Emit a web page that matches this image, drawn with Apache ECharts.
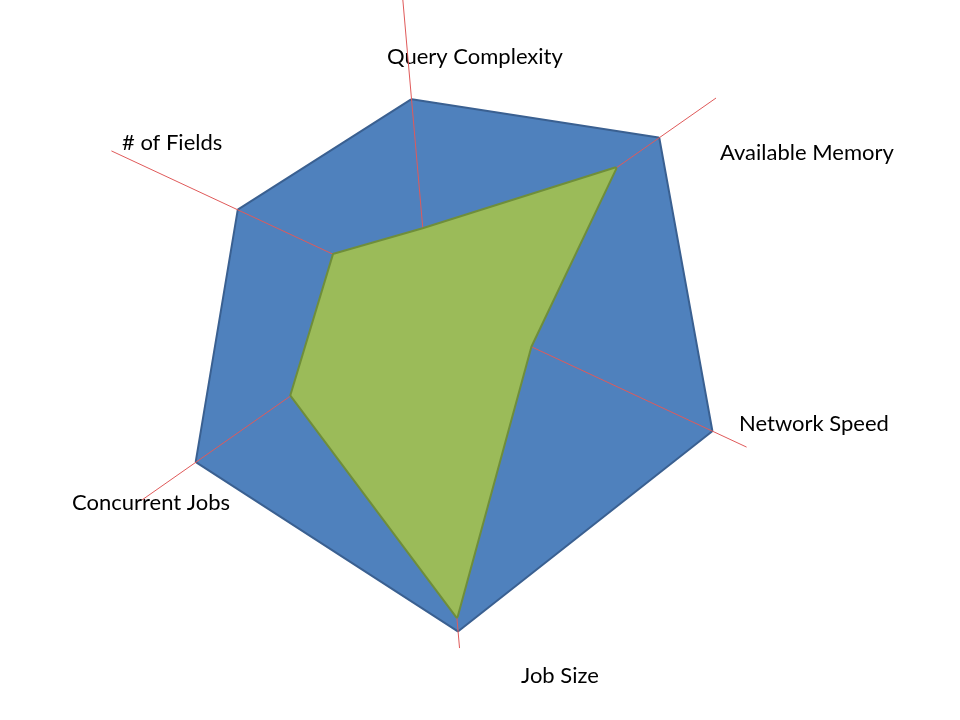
<!DOCTYPE html>
<html>
<head>
<meta charset="utf-8">
<script src="https://cdn.jsdelivr.net/npm/echarts/dist/echarts.min.js"></script>
<style>
  html, body { margin: 0; padding: 0; background: #fff; }
  #chart { width: 960px; height: 720px; }
</style>
</head>
<body>
<div id="chart"></div>
<script>
// indicators, listed counter-clockwise from the top axis
var indicators = ['Query Complexity', '# of Fields', 'Concurrent Jobs', 'Job Size', 'Network Speed', 'Available Memory'];
var indicatorMax = 100;

// outer (blue) and inner (green) profiles
var outerValues = [57, 60, 81, 95, 89, 80];
var innerValues = [20, 30, 48, 91, 32, 65];

// where each axis caption sits (left edge, middle line)
var captionPos = [[387, 57], [122, 143], [72, 503], [521, 676], [739, 424], [720, 153]];

var myChart = echarts.init(document.getElementById('chart'));

var option = {
    backgroundColor: '#ffffff',
    animation: false,
    radar: {
        center: [429, 299],
        radius: 350,
        startAngle: 95,
        shape: 'polygon',
        z: 2,
        indicator: indicators.map(function (n) {
            return { name: n, min: 0, max: indicatorMax };
        }),
        axisName: { show: false },
        axisLine: {
            lineStyle: { color: '#e05a5a', width: 1 }
        },
        axisTick: { show: false },
        axisLabel: { show: false },
        splitLine: { show: false },
        splitArea: { show: false }
    },
    graphic: indicators.map(function (n, i) {
        return {
            type: 'text',
            x: captionPos[i][0],
            y: captionPos[i][1],
            style: {
                text: n,
                fill: '#000000',
                font: '22px Lato',
                align: 'left',
                verticalAlign: 'middle',
                textAlign: 'left',
                textVerticalAlign: 'middle'
            }
        };
    }),
    series: [
        {
            type: 'radar',
            z: 1,
            symbol: 'none',
            lineStyle: { color: '#3a6091', width: 4 },
            areaStyle: { color: '#4f81bd', opacity: 1 },
            data: [{ value: outerValues }]
        },
        {
            type: 'radar',
            z: 3,
            symbol: 'none',
            lineStyle: { color: '#6f8e3a', width: 4 },
            areaStyle: { color: '#9bbb59', opacity: 1 },
            data: [{ value: innerValues }]
        }
    ]
};

myChart.setOption(option);
window.addEventListener('resize', function () {
    myChart.resize();
});
</script>
</body>
</html>
